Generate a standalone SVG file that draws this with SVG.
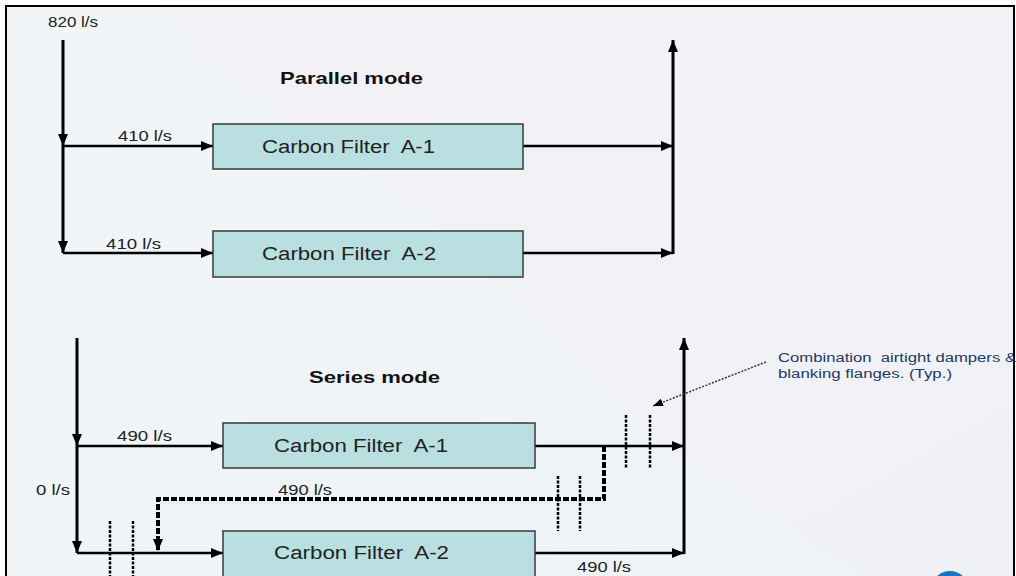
<svg xmlns="http://www.w3.org/2000/svg" width="1016" height="576" viewBox="0 0 1016 576">
<defs>
<linearGradient id="bg" x1="0" y1="0" x2="1" y2="1">
<stop offset="0" stop-color="#f2f5f8"/>
<stop offset="1" stop-color="#eef3f7"/>
</linearGradient>
<marker id="ah" viewBox="0 0 12 10" refX="12" refY="5" markerWidth="12" markerHeight="10" markerUnits="userSpaceOnUse" orient="auto">
<path d="M0,0 L12,5 L0,10 z" fill="#000"/>
</marker>
<marker id="ahs" viewBox="0 0 10 8" refX="10" refY="4" markerWidth="10" markerHeight="8" markerUnits="userSpaceOnUse" orient="auto">
<path d="M0,0 L10,4 L0,8 z" fill="#000"/>
</marker>
</defs>
<style>
text{white-space:pre}
.box{fill:#b9dfe0;stroke:#3a3a3a;stroke-width:1.5}
.lbl{font-family:"Liberation Sans",Arial,sans-serif;font-size:18px;fill:#222}
.flow{font-family:"Liberation Sans",Arial,sans-serif;font-size:14px;fill:#222}
.title{font-family:"Liberation Sans",Arial,sans-serif;font-size:17px;font-weight:bold;fill:#111}
.note{font-family:"Liberation Sans",Arial,sans-serif;font-size:12px;fill:#1f3864}
.ln{stroke:#000;stroke-width:2.5;fill:none}
.vl{stroke:#000;stroke-width:3;fill:none}
.dash{stroke:#000;stroke-width:4;stroke-dasharray:6 2;fill:none}
.damp{stroke:#000;stroke-width:2.5;stroke-dasharray:3 1.5;fill:none}
</style>
<rect x="0" y="0" width="1016" height="576" fill="#fff"/>
<rect x="6" y="6" width="1008" height="580" fill="url(#bg)"/>
<path d="M200,60 C300,130 420,200 540,330 C640,440 760,520 860,576 L1014,576 L1014,6 L160,6 Z" fill="#f4eff3" opacity="0.35"/>
<circle cx="950" cy="590" r="19" fill="#1a74c4"/>
<circle cx="988" cy="592" r="14" fill="#d8dde3"/>
<rect x="6" y="6" width="1008" height="580" fill="none" stroke="#000" stroke-width="2"/>

<g id="connectors">
<line class="vl" x1="63" y1="40" x2="63" y2="146" marker-end="url(#ah)"/>
<line class="vl" x1="63" y1="146" x2="63" y2="253" marker-end="url(#ah)"/>
<line class="ln" x1="63" y1="146" x2="213" y2="146" marker-end="url(#ah)"/>
<line class="ln" x1="63" y1="253" x2="213" y2="253" marker-end="url(#ah)"/>
<line class="ln" x1="523" y1="146" x2="673" y2="146" marker-end="url(#ah)"/>
<line class="ln" x1="523" y1="253" x2="673" y2="253" marker-end="url(#ah)"/>
<line class="vl" x1="673" y1="254" x2="673" y2="40" marker-end="url(#ah)"/>

<line class="vl" x1="77" y1="338" x2="77" y2="446" marker-end="url(#ah)"/>
<line class="vl" x1="77" y1="446" x2="77" y2="553" marker-end="url(#ah)"/>
<line class="ln" x1="77" y1="446" x2="223" y2="446" marker-end="url(#ah)"/>
<line class="ln" x1="77" y1="553" x2="223" y2="553" marker-end="url(#ah)"/>
<line class="ln" x1="535" y1="446" x2="684" y2="446" marker-end="url(#ah)"/>
<line class="ln" x1="535" y1="553" x2="684" y2="553" marker-end="url(#ah)"/>
<line class="vl" x1="684" y1="554" x2="684" y2="338" marker-end="url(#ah)"/>

<path class="dash" d="M604,446 L604,499 L158,499 L158,551" marker-end="url(#ah)"/>

<line class="damp" x1="626" y1="415" x2="626" y2="468"/>
<line class="damp" x1="650" y1="415" x2="650" y2="468"/>
<line class="damp" x1="558" y1="476" x2="558" y2="531"/>
<line class="damp" x1="580" y1="476" x2="580" y2="531"/>
<line class="damp" x1="110" y1="521" x2="110" y2="580"/>
<line class="damp" x1="133" y1="521" x2="133" y2="580"/>

<line x1="766" y1="362" x2="653" y2="406" stroke="#333" stroke-width="1.5" stroke-dasharray="2 1.5" marker-end="url(#ahs)"/>
</g>

<g id="node-pa1">
<rect class="box" x="213" y="124" width="310" height="45"/>
<text class="lbl" x="262" y="153" textLength="173" lengthAdjust="spacingAndGlyphs">Carbon Filter  A-1</text>
</g>
<g id="node-pa2">
<rect class="box" x="213" y="231" width="310" height="46"/>
<text class="lbl" x="262" y="260" textLength="174" lengthAdjust="spacingAndGlyphs">Carbon Filter  A-2</text>
</g>
<g id="node-sa1">
<rect class="box" x="223" y="423" width="312" height="45"/>
<text class="lbl" x="274" y="452" textLength="174" lengthAdjust="spacingAndGlyphs">Carbon Filter  A-1</text>
</g>
<g id="node-sa2">
<rect class="box" x="223" y="531" width="312" height="60"/>
<text class="lbl" x="274" y="559" textLength="175" lengthAdjust="spacingAndGlyphs">Carbon Filter  A-2</text>
</g>

<g id="labels">
<text class="flow" x="48" y="27" textLength="50" lengthAdjust="spacingAndGlyphs">820 l/s</text>
<text class="title" x="280" y="84" textLength="143" lengthAdjust="spacingAndGlyphs">Parallel mode</text>
<text class="flow" x="118" y="141" textLength="54" lengthAdjust="spacingAndGlyphs">410 l/s</text>
<text class="flow" x="106" y="249" textLength="55" lengthAdjust="spacingAndGlyphs">410 l/s</text>
<text class="title" x="309" y="383" textLength="131" lengthAdjust="spacingAndGlyphs">Series mode</text>
<text class="flow" x="117" y="441" textLength="55" lengthAdjust="spacingAndGlyphs">490 l/s</text>
<text class="flow" x="36" y="495" textLength="34" lengthAdjust="spacingAndGlyphs">0 l/s</text>
<text class="flow" x="278" y="495" textLength="54" lengthAdjust="spacingAndGlyphs">490 l/s</text>
<text class="flow" x="577" y="572" textLength="54" lengthAdjust="spacingAndGlyphs">490 l/s</text>
<text class="note" x="778" y="362" textLength="238" lengthAdjust="spacingAndGlyphs">Combination  airtight dampers &amp;</text>
<text class="note" x="778" y="378" textLength="174" lengthAdjust="spacingAndGlyphs">blanking flanges. (Typ.)</text>
</g>
</svg>
